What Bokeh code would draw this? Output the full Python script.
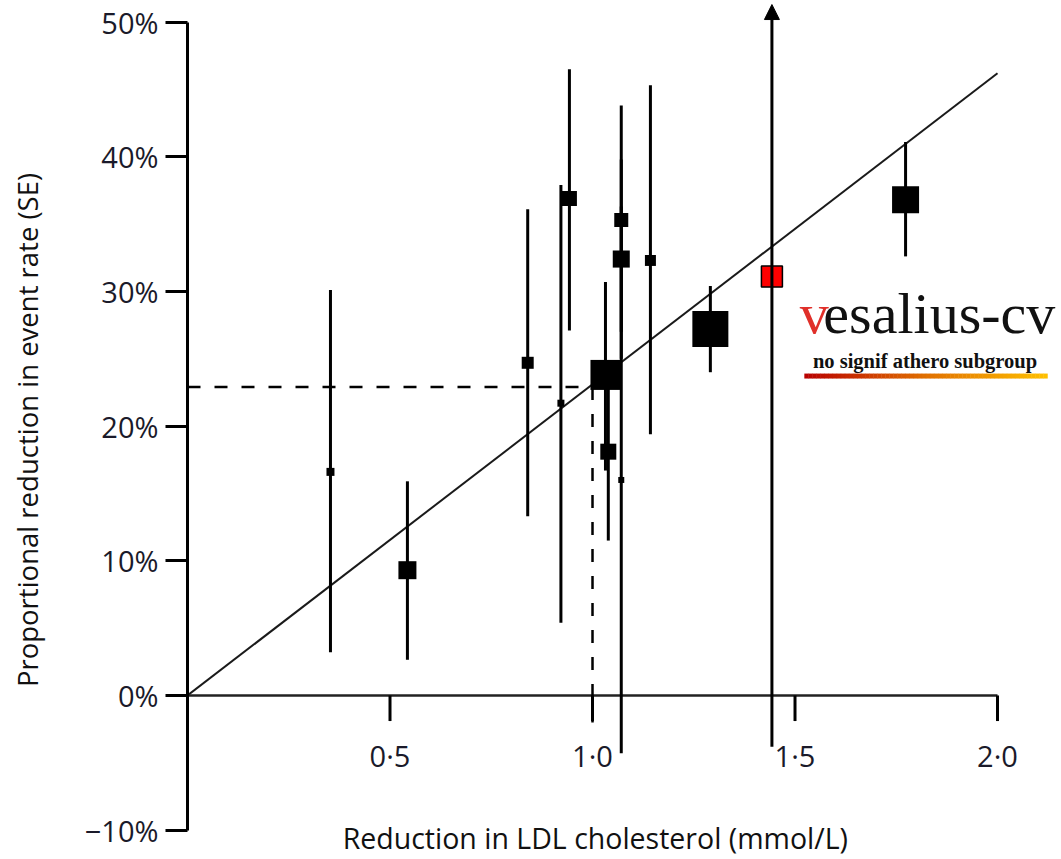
from bokeh.plotting import figure
from bokeh.models import ColumnDataSource, FixedTicker, Range1d, Label, Arrow, NormalHead
from bokeh.embed import file_html
from bokeh.resources import INLINE
from bokeh.core.properties import value

# ---- data ----
ldl = [0.353, 0.543, 0.840, 0.922, 0.943, 1.032, 1.039, 1.071, 1.071, 1.071, 1.143, 1.291, 1.773]
effect = [16.6, 9.3, 24.7, 21.7, 36.9, 23.8, 18.1, 35.3, 32.4, 16.0, 32.3, 27.2, 36.8]
ci_low = [3.2, 2.65, 13.3, 5.4, 27.1, 16.7, 11.5, 27.0, 25.0, -4.3, 19.4, 24.0, 32.6]
ci_high = [30.1, 15.9, 36.1, 37.9, 46.5, 30.7, 24.7, 43.8, 39.8, 36.3, 45.3, 30.4, 41.1]
weight_px = [8, 18, 12, 7, 15, 30, 16, 14, 17, 6, 11, 36, 27]

# highlighted trial (no significant athero subgroup)
hl_ldl = [1.443]
hl_effect = [31.1]
hl_low = [-3.8]
hl_high = [51.3]   # upper limit beyond the axis (arrow)
hl_size = [21]

# regression line and reference lines
reg_x = [0.0, 2.0]
reg_y = [0.0, 46.2]
ref_ldl = 1.0
ref_effect = 22.9
ref_floor = -2.0

x_ticks = [0.5, 1.0, 1.5, 2.0]
x_tick_labels = ["0\u00b75", "1\u00b70", "1\u00b75", "2\u00b70"]
y_ticks = [-10, 0, 10, 20, 30, 40, 50]
y_tick_labels = ["\u221210%", "0%", "10%", "20%", "30%", "40%", "50%"]

x_title = "Reduction in LDL cholesterol (mmol/L)"
y_title = "Proportional reduction in event rate (SE)"

# ---- figure ----
p = figure(width=1061, height=859,
           x_range=Range1d(0, 2.158), y_range=Range1d(-12.18, 51.6),
           output_backend="svg", toolbar_location=None, x_axis_location=None,
           min_border_left=187, min_border_right=0, min_border_top=0, min_border_bottom=0)
p.outline_line_color = None
p.grid.visible = False
p.background_fill_color = "white"
p.border_fill_color = "white"

ax = p.yaxis[0]
ax.ticker = FixedTicker(ticks=y_ticks)
ax.major_label_overrides = {t: l for t, l in zip(y_ticks, y_tick_labels)}
ax.bounds = (-10, 50)
ax.axis_line_width = 3
ax.axis_line_color = "black"
ax.major_tick_line_width = 3
ax.major_tick_line_color = "black"
ax.major_tick_out = 22
ax.major_tick_in = 0
ax.minor_tick_out = 0
ax.minor_tick_in = 0
ax.major_label_standoff = 7
ax.major_label_text_font = "Open Sans"
ax.major_label_text_font_size = "29px"
ax.major_label_text_color = "#1a1a2a"
ax.axis_label = y_title
ax.axis_label_text_font = "Open Sans"
ax.axis_label_text_font_style = "normal"
ax.axis_label_text_font_size = "27.5px"
ax.axis_label_text_color = "#111111"
ax.axis_label_standoff = 36

# x axis drawn through y = 0
p.line(x=[0, x_ticks[-1]], y=[0, 0], line_color="#222222", line_width=2.5)
p.segment(x0=x_ticks, y0=[0] * len(x_ticks), x1=x_ticks, y1=[-1.9] * len(x_ticks),
          line_color="black", line_width=3)
p.text(x=x_ticks, y=[-4.45] * len(x_ticks), text=x_tick_labels,
       text_align="center", text_baseline="middle",
       text_font=value("Open Sans"), text_font_size="29px", text_color="#1a1a2a")
p.add_layout(Label(x=1.007, y=-10.62, text=x_title, text_align="center",
                   text_baseline="middle", text_font="Open Sans",
                   text_font_size="28.5px", text_color="#111111"))

# regression and reference lines
p.line(x=reg_x, y=reg_y, line_color="#1a1a1a", line_width=2)
p.line(x=[0, ref_ldl], y=[ref_effect, ref_effect], line_color="black",
       line_width=2.5, line_dash="13 14")
p.line(x=[ref_ldl, ref_ldl], y=[ref_effect, ref_floor], line_color="black",
       line_width=2.5, line_dash="13 14")

# error bars and squares
src = ColumnDataSource(dict(x=ldl, y=effect, lo=ci_low, hi=ci_high, s=weight_px))
p.segment(x0="x", y0="lo", x1="x", y1="hi", source=src, line_color="black", line_width=3)
p.scatter(x="x", y="y", size="s", marker="square", source=src,
          fill_color="black", line_color="black", line_width=0)

p.add_layout(Arrow(end=NormalHead(size=15, fill_color="black", line_color="black"),
                   x_start=hl_ldl[0], y_start=hl_low[0], x_end=hl_ldl[0], y_end=hl_high[0],
                   line_color="black", line_width=3))
p.scatter(x=hl_ldl, y=hl_effect, size=hl_size, marker="square",
          fill_color="#ff0000", line_color="black", line_width=1.5)

# watermark
p.add_layout(Label(x=1.512, y=28.33, text="v", text_align="left", text_baseline="middle",
                   text_font="Liberation Serif", text_font_size="58px", text_color="#e0302a"))
p.add_layout(Label(x=1.570, y=28.33, text="esalius-cv", text_align="left",
                   text_baseline="middle", text_font="Liberation Serif",
                   text_font_size="58px", text_color="#111111"))
p.add_layout(Label(x=1.821, y=24.85, text="no signif athero subgroup", text_align="center",
                   text_baseline="middle", text_font="Liberation Serif",
                   text_font_size="20.5px", text_font_style="bold", text_color="#111111"))

stops = [(0.0, (184, 0, 0)), (0.5, (224, 112, 0)), (1.0, (255, 192, 0))]
n = 60
bx0, bx1 = 1.523, 2.123
lefts, rights, cols = [], [], []
for i in range(n):
    t = (i + 0.5) / n
    for (t0, c0), (t1, c1) in zip(stops[:-1], stops[1:]):
        if t0 <= t <= t1:
            f = (t - t0) / (t1 - t0)
            c = tuple(int(round(a + (b - a) * f)) for a, b in zip(c0, c1))
            break
    lefts.append(bx0 + (bx1 - bx0) * i / n)
    rights.append(bx0 + (bx1 - bx0) * (i + 1) / n + 0.001)
    cols.append("#%02x%02x%02x" % c)
p.quad(left=lefts, right=rights, top=[23.9] * n, bottom=[23.53] * n,
       fill_color=cols, line_color=None)

open("out.html", "w").write(file_html(p, INLINE))
